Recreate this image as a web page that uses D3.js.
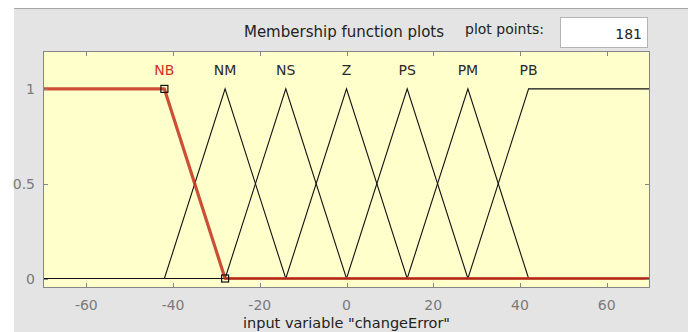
<!DOCTYPE html>
<html>
<head>
<meta charset="utf-8">
<script src="https://cdn.jsdelivr.net/npm/d3@7/dist/d3.min.js"></script>
<style>
  html, body { margin: 0; padding: 0; background: #ffffff; }
  svg { display: block; }
  text { font-family: "DejaVu Sans", sans-serif; }
</style>
</head>
<body>
<svg id="chart" width="688" height="332"></svg>
<script>
// Membership functions of the input variable "changeError"
const mfNames  = ["NB", "NM", "NS", "Z", "PS", "PM", "PB"];
const mfTypes  = ["trapmf", "trimf", "trimf", "trimf", "trimf", "trimf", "trapmf"];
const mfParams = [
  [-70, -70, -42, -28],
  [-42, -28, -14],
  [-28, -14, 0],
  [-14, 0, 14],
  [0, 14, 28],
  [14, 28, 42],
  [28, 42, 70, 70]
];
const selectedMf = 0;             // highlighted function (NB)
const inputRange = [-70, 70];
const xTicks = [-60, -40, -20, 0, 20, 40, 60];
const yTicks = [0, 0.5, 1];
const plotPoints = 181;
const titleText = "Membership function plots";
const pointsLabel = "plot points:";
const xLabel = 'input variable "changeError"';

const svg = d3.select("#chart");
const W = 688, H = 332;
const plot = { left: 43, right: 650, top: 51, bottom: 288 };

// Figure panel
svg.append("rect").attr("x", 14).attr("y", 8).attr("width", W - 14).attr("height", H - 8)
  .attr("fill", "#e4e4e4");
svg.append("line").attr("x1", 14).attr("x2", W).attr("y1", 8.5).attr("y2", 8.5)
  .attr("stroke", "#a6a6a6").attr("stroke-width", 1);

const x = d3.scaleLinear().domain(inputRange).range([plot.left, plot.right]);
const y = d3.scaleLinear().domain([-0.05, 1.2]).range([plot.bottom, plot.top]);

// Plot background
svg.append("rect")
  .attr("x", plot.left).attr("y", plot.top)
  .attr("width", plot.right - plot.left).attr("height", plot.bottom - plot.top)
  .attr("fill", "#ffffcc");

// Membership value of a function at a point
function mfValue(type, p, v) {
  if (type === "trimf") {
    const [a, b, c] = p;
    if (v <= a || v >= c) return v === b ? 1 : 0;
    return v <= b ? (v - a) / (b - a) : (c - v) / (c - b);
  }
  const [a, b, c, d] = p;
  let left = v < a ? 0 : (v >= b ? 1 : (v - a) / (b - a));
  let right = v > d ? 0 : (v <= c ? 1 : (d - v) / (d - c));
  if (a === b && v >= a) left = 1;
  if (c === d && v <= d) right = 1;
  return Math.min(left, right);
}

// Outline vertices: range ends plus the function's breakpoints
function mfVertices(i) {
  const xs = Array.from(new Set([inputRange[0], ...mfParams[i], inputRange[1]]))
    .filter(v => v >= inputRange[0] && v <= inputRange[1])
    .sort((a, b) => a - b);
  return xs.map(v => [v, mfValue(mfTypes[i], mfParams[i], v)]);
}

const line = d3.line().x(d => x(d[0])).y(d => y(d[1]));
const g = svg.append("g");

// Other functions, thin black
mfNames.forEach((name, i) => {
  if (i === selectedMf) return;
  g.append("path")
    .datum(mfVertices(i))
    .attr("d", line)
    .attr("fill", "none")
    .attr("stroke", "#111")
    .attr("stroke-width", 1.1);
});

// Highlighted function, thick red, drawn over the others
g.append("path")
  .datum(mfVertices(selectedMf))
  .attr("d", line)
  .attr("fill", "none")
  .attr("stroke", "#c2301c")
  .attr("stroke-opacity", 0.85)
  .attr("stroke-width", 3.2)
  .attr("stroke-linejoin", "round");

// Handles on the highlighted function's sloped segment
const sel = mfParams[selectedMf];
const handles = [sel[2], sel[3]].map(v => [v, mfValue(mfTypes[selectedMf], sel, v)]);
g.selectAll("rect.handle").data(handles).enter().append("rect")
  .attr("class", "handle")
  .attr("x", d => x(d[0]) - 3.5).attr("y", d => y(d[1]) - 3.5)
  .attr("width", 7).attr("height", 7)
  .attr("fill", "none").attr("stroke", "#111").attr("stroke-width", 1.2);

// Function names above their peaks
function labelX(i) {
  const p = mfParams[i];
  const tops = mfTypes[i] === "trimf" ? [p[1]] : [p[1], p[2]];
  return tops.reduce((a, b) => Math.abs(b) < Math.abs(a) ? b : a);
}
svg.selectAll("text.mf").data(mfNames).enter().append("text")
  .attr("class", "mf")
  .attr("x", (d, i) => x(labelX(i)))
  .attr("y", y(1.1))
  .attr("dy", "0.36em")
  .attr("text-anchor", "middle")
  .attr("font-size", 14)
  .attr("fill", (d, i) => i === selectedMf ? "#d2321e" : "#2a2a2a")
  .text(d => d);

// Axis box
svg.append("rect")
  .attr("x", plot.left + 0.5).attr("y", plot.top + 0.5)
  .attr("width", plot.right - plot.left - 1).attr("height", plot.bottom - plot.top - 1)
  .attr("fill", "none").attr("stroke", "#858585").attr("stroke-width", 1);

// Ticks on all four sides, pointing inward
const tickLen = 5;
const ticks = svg.append("g").attr("stroke", "#858585").attr("stroke-width", 1);
xTicks.forEach(t => {
  const px = Math.round(x(t)) + 0.5;
  ticks.append("line").attr("x1", px).attr("x2", px).attr("y1", plot.bottom).attr("y2", plot.bottom - tickLen);
  ticks.append("line").attr("x1", px).attr("x2", px).attr("y1", plot.top).attr("y2", plot.top + tickLen);
});
yTicks.forEach(t => {
  const py = Math.round(y(t)) + 0.5;
  ticks.append("line").attr("x1", plot.left).attr("x2", plot.left + tickLen).attr("y1", py).attr("y2", py);
  ticks.append("line").attr("x1", plot.right).attr("x2", plot.right - tickLen).attr("y1", py).attr("y2", py);
});

// Tick labels
svg.selectAll("text.xt").data(xTicks).enter().append("text")
  .attr("class", "xt")
  .attr("x", d => x(d)).attr("y", 310)
  .attr("text-anchor", "middle").attr("font-size", 14).attr("fill", "#7a7a7a")
  .text(d => d < 0 ? "-" + Math.abs(d) : d);
svg.selectAll("text.yt").data(yTicks).enter().append("text")
  .attr("class", "yt")
  .attr("x", 35).attr("y", d => y(d))
  .attr("dy", "0.36em")
  .attr("text-anchor", "end").attr("font-size", 14).attr("fill", "#7a7a7a")
  .text(d => d);

// Axis title
svg.append("text")
  .attr("x", x(0)).attr("y", 328)
  .attr("text-anchor", "middle").attr("font-size", 14.5).attr("fill", "#222")
  .text(xLabel);

// Header
svg.append("text")
  .attr("x", 344).attr("y", 37)
  .attr("text-anchor", "middle").attr("font-size", 15).attr("fill", "#222")
  .text(titleText);
svg.append("text")
  .attr("x", 465).attr("y", 34)
  .attr("font-size", 14).attr("fill", "#222")
  .text(pointsLabel);
svg.append("rect")
  .attr("x", 560.5).attr("y", 17.5).attr("width", 87).attr("height", 30)
  .attr("fill", "#ffffff").attr("stroke", "#b4b4b4");
svg.append("text")
  .attr("x", 642).attr("y", 39)
  .attr("text-anchor", "end").attr("font-size", 14).attr("fill", "#222")
  .text(plotPoints);
</script>
</body>
</html>
